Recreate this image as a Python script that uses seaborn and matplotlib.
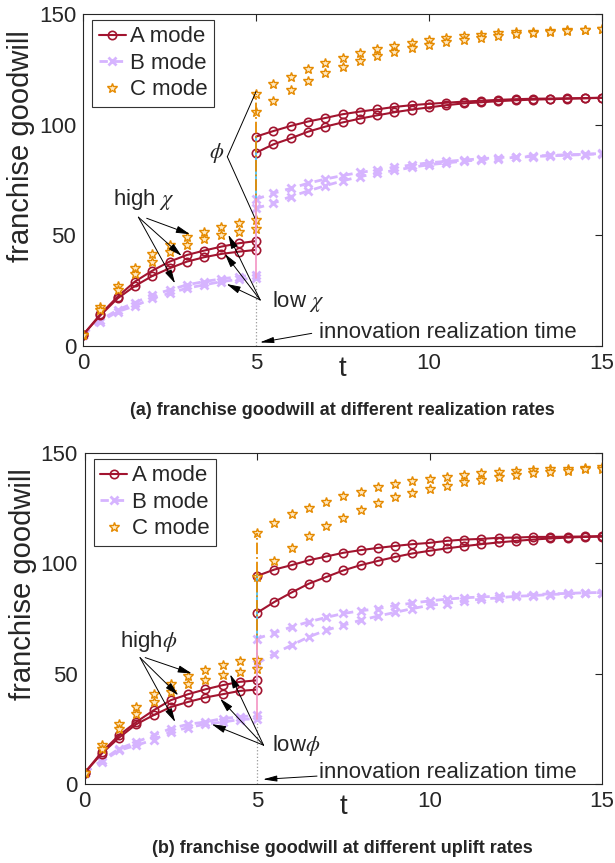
import numpy as np
import pandas as pd
import seaborn as sns
import matplotlib
matplotlib.use("Agg")
import matplotlib.pyplot as plt
from matplotlib.lines import Line2D

# time grid (before / after the innovation is realized at t = 5)
T_PRE = [0.0, 0.5, 1.0, 1.5, 2.0, 2.5, 3.0, 3.5, 4.0, 4.5, 5.0]
T_POST = [5.0, 5.5, 6.0, 6.5, 7.0, 7.5, 8.0, 8.5, 9.0, 9.5, 10.0,
          10.5, 11.0, 11.5, 12.0, 12.5, 13.0, 13.5, 14.0, 14.5, 15.0]
T_SWITCH = 5.0

# ---- (a) different realization rates ----
a_A_hi_pre = [5, 14.3, 22.3, 29.1, 34.0, 38.1, 41.1, 43.1, 44.9, 46.4, 47.4]
a_A_lo_pre = [5, 13.8, 21.5, 27.1, 31.6, 35.1, 38.1, 40.1, 41.6, 42.6, 43.4]
a_A_hi_post = [94.6, 97.1, 99.4, 101.4, 103.0, 104.7, 105.9, 106.9, 108.0, 108.8, 109.4,
               109.9, 110.4, 110.8, 111.2, 111.5, 111.7, 111.8, 111.9, 112.0, 112.2]
a_A_lo_post = [87.3, 91.1, 93.8, 96.8, 99.1, 101.0, 102.7, 104.2, 105.6, 106.8, 107.8,
               108.8, 109.6, 110.1, 110.6, 111.0, 111.3, 111.5, 111.7, 111.9, 112.1]
a_B_hi_pre = [5, 11.7, 16.3, 19.6, 23.0, 25.3, 27.6, 29.1, 30.3, 31.3, 32.1]
a_B_lo_pre = [5, 11.0, 15.5, 18.1, 21.5, 23.8, 26.1, 27.6, 29.1, 30.1, 30.6]
a_B_hi_post = [66.3, 69.0, 71.2, 73.5, 75.4, 77.0, 78.4, 79.5, 80.7, 81.8, 82.8,
               83.4, 84.0, 84.6, 85.1, 85.5, 85.8, 86.1, 86.4, 86.6, 87.0]
a_B_lo_post = [62.2, 64.5, 67.5, 70.0, 72.4, 74.6, 76.5, 78.0, 79.3, 80.7, 81.9,
               82.7, 83.5, 84.1, 84.7, 85.2, 85.6, 85.9, 86.2, 86.5, 86.9]
a_C_hi_pre = [5, 17.5, 27.1, 35.1, 41.6, 45.6, 49.4, 51.6, 53.9, 55.7, 56.9]
a_C_lo_pre = [5, 16.3, 25.3, 32.5, 38.1, 42.3, 45.6, 48.2, 50.2, 51.6, 52.7]
a_C_hi_post = [113.9, 118.2, 121.7, 125.0, 127.9, 130.3, 132.2, 134.0, 135.7, 137.0, 138.3,
               139.1, 140.0, 140.7, 141.3, 141.7, 142.0, 142.3, 142.6, 142.9, 143.2]
a_C_lo_post = [105.6, 110.8, 115.7, 119.8, 123.4, 126.2, 128.8, 131.0, 133.0, 134.8, 136.0,
               137.2, 138.3, 139.3, 140.1, 140.8, 141.4, 141.9, 142.2, 142.6, 143.1]

# ---- (b) different uplift rates ----
b_A_hi_pre = [5, 14.5, 22.1, 28.1, 33.4, 38.0, 40.7, 42.9, 44.8, 46.3, 47.0]
b_A_lo_pre = [5, 13.8, 21.0, 27.1, 31.2, 34.9, 37.2, 39.2, 40.7, 42.2, 42.8]
b_A_hi_post = [94.3, 97.2, 99.2, 101.4, 103.1, 104.8, 106.0, 107.0, 107.9, 108.7, 109.3,
               110.2, 110.8, 111.1, 111.6, 111.7, 112.0, 112.0, 112.1, 112.2, 112.4]
b_A_lo_post = [77.6, 82.5, 86.8, 90.8, 93.8, 96.8, 99.2, 101.1, 102.9, 104.5, 105.7,
               106.8, 107.8, 108.7, 109.5, 110.2, 110.8, 111.3, 111.7, 112.0, 112.1]
b_B_hi_pre = [5, 10.7, 16.0, 19.0, 22.1, 25.1, 27.1, 28.1, 29.7, 30.4, 31.2]
b_B_lo_pre = [5, 10.0, 15.3, 17.5, 20.1, 23.6, 25.6, 27.1, 28.1, 29.2, 29.7]
b_B_hi_post = [65.9, 68.5, 71.2, 73.5, 75.5, 77.3, 78.5, 79.5, 80.9, 82.0, 83.0,
               83.8, 84.4, 84.8, 85.1, 85.6, 85.9, 86.2, 86.4, 86.7, 86.8]
b_B_lo_post = [54.6, 59.1, 62.9, 66.7, 69.7, 72.0, 74.2, 76.1, 77.8, 79.5, 81.0,
               81.8, 83.0, 83.8, 84.4, 85.1, 85.4, 85.9, 86.2, 86.5, 86.8]
b_C_hi_pre = [5, 17.5, 27.4, 34.9, 41.0, 45.5, 48.8, 51.6, 53.8, 55.6, 56.4]
b_C_lo_pre = [5, 16.1, 25.1, 31.9, 37.2, 41.7, 45.2, 47.3, 49.3, 50.8, 52.3]
b_C_hi_post = [113.6, 118.4, 122.2, 125.2, 128.0, 130.5, 132.5, 134.4, 135.9, 137.3, 138.3,
               139.2, 140.0, 140.8, 141.5, 141.9, 142.3, 142.6, 142.9, 143.3, 143.5]
b_C_lo_post = [94.0, 101.0, 107.0, 112.3, 117.0, 120.8, 124.2, 127.2, 129.9, 132.0, 133.7,
               135.3, 136.7, 137.7, 139.0, 139.9, 140.8, 141.4, 142.0, 142.6, 142.9]

MODES = ["A mode", "B mode", "C mode"]
TITLES = ["(a) franchise goodwill at different realization rates",
          "(b) franchise goodwill at different uplift rates"]

A_COLOR = "#A2142F"
B_COLOR = "#D6B4FF"
C_COLOR = "#E58A00"
C_FILL = "#FFE9C2"
JUMP_COLORS = {"A mode": "#4DBEEE", "B mode": "#F59CC8", "C mode": "#E58A00"}


def build_frame(curves):
    rows = []
    for mode, level, phase, t, vals in curves:
        for ti, v in zip(t, vals):
            rows.append({"t": ti, "value": v, "mode": mode,
                         "curve": f"{level}-{phase}"})
    return pd.DataFrame(rows)


df_a = build_frame([
    ("A mode", "hi", "pre", T_PRE, a_A_hi_pre), ("A mode", "lo", "pre", T_PRE, a_A_lo_pre),
    ("A mode", "hi", "post", T_POST, a_A_hi_post), ("A mode", "lo", "post", T_POST, a_A_lo_post),
    ("B mode", "hi", "pre", T_PRE, a_B_hi_pre), ("B mode", "lo", "pre", T_PRE, a_B_lo_pre),
    ("B mode", "hi", "post", T_POST, a_B_hi_post), ("B mode", "lo", "post", T_POST, a_B_lo_post),
    ("C mode", "hi", "pre", T_PRE, a_C_hi_pre), ("C mode", "lo", "pre", T_PRE, a_C_lo_pre),
    ("C mode", "hi", "post", T_POST, a_C_hi_post), ("C mode", "lo", "post", T_POST, a_C_lo_post),
])
df_b = build_frame([
    ("A mode", "hi", "pre", T_PRE, b_A_hi_pre), ("A mode", "lo", "pre", T_PRE, b_A_lo_pre),
    ("A mode", "hi", "post", T_POST, b_A_hi_post), ("A mode", "lo", "post", T_POST, b_A_lo_post),
    ("B mode", "hi", "pre", T_PRE, b_B_hi_pre), ("B mode", "lo", "pre", T_PRE, b_B_lo_pre),
    ("B mode", "hi", "post", T_POST, b_B_hi_post), ("B mode", "lo", "post", T_POST, b_B_lo_post),
    ("C mode", "hi", "pre", T_PRE, b_C_hi_pre), ("C mode", "lo", "pre", T_PRE, b_C_lo_pre),
    ("C mode", "hi", "post", T_POST, b_C_hi_post), ("C mode", "lo", "post", T_POST, b_C_lo_post),
])

sns.set_theme(style="white")
plt.rcParams["font.family"] = ["Liberation Sans", "DejaVu Sans"]
plt.rcParams["mathtext.fontset"] = "stix"

fig = plt.figure(figsize=(6.15, 8.63), dpi=100)
ax1 = fig.add_axes([0.1350, 0.5991, 0.8439, 0.3847])
ax2 = fig.add_axes([0.1374, 0.0915, 0.8415, 0.3835])


def draw_panel(ax, df):
    # seaborn defaults marker edges to white, so set them explicitly
    d = df[df["mode"] == "B mode"]
    sns.lineplot(data=d, x="t", y="value", units="curve", estimator=None, ax=ax,
                 color=B_COLOR, linewidth=2.0, marker="x",
                 markersize=5.5, markeredgewidth=2.0, markeredgecolor=B_COLOR,
                 legend=False, dashes=False, linestyle=(0, (3, 2.5)))
    d = df[df["mode"] == "A mode"]
    sns.lineplot(data=d, x="t", y="value", units="curve", estimator=None, ax=ax,
                 color=A_COLOR, linewidth=1.5, marker="o", markersize=6,
                 markerfacecolor="none", markeredgecolor=A_COLOR,
                 markeredgewidth=1.2, legend=False)
    d = df[df["mode"] == "C mode"]
    sns.lineplot(data=d, x="t", y="value", units="curve", estimator=None, ax=ax,
                 color=C_COLOR, linestyle="none", marker="*", markersize=7.5,
                 markerfacecolor=C_FILL, markeredgecolor=C_COLOR,
                 markeredgewidth=1.0, legend=False)

    # vertical jumps at the realization time
    for mode, ls in [("A mode", "-"), ("C mode", "-."), ("B mode", "-")]:
        d = df[(df["mode"] == mode) & (df["t"] == T_SWITCH)]
        ax.plot([T_SWITCH, T_SWITCH], [d["value"].min(), d["value"].max()],
                color=JUMP_COLORS[mode], linestyle=ls, linewidth=1.3, zorder=4)
    low_b = df[(df["mode"] == "B mode") & (df["t"] == T_SWITCH)]["value"].min()
    ax.plot([T_SWITCH, T_SWITCH], [0, low_b], color="#9a9a9a", linestyle=":",
            linewidth=0.9, zorder=1)

    ax.set_xlim(0, 15)
    ax.set_ylim(0, 150)
    ax.set_xticks([0, 5, 10, 15])
    ax.set_yticks([0, 50, 100, 150])
    ax.tick_params(direction="in", top=True, right=True, length=5, width=0.8,
                   labelsize=16, colors="#262626", pad=5)
    for s in ax.spines.values():
        s.set_color("#262626")
        s.set_linewidth(0.8)
    ax.set_xlabel("t", fontsize=20, color="#262626")
    ax.xaxis.set_label_coords(0.5, -0.03)
    ax.set_ylabel("franchise goodwill", fontsize=21, color="#262626")
    ax.yaxis.set_label_coords(-0.092, 0.603)

    handles = [
        Line2D([], [], color=A_COLOR, lw=1.5, marker="o", mfc="none", ms=6, mew=1.2),
        Line2D([], [], color=B_COLOR, lw=2.0, ls=(0, (3, 2.5)), marker="x", ms=5.5, mew=2.0),
        Line2D([], [], color=C_COLOR, ls="none", marker="*", ms=7.5, mfc=C_FILL, mew=1.0),
    ]
    leg = ax.legend(handles, MODES, loc="upper left", bbox_to_anchor=(0.018, 0.983),
                    fontsize=16, frameon=True, fancybox=False, framealpha=1,
                    edgecolor="#333333", handlelength=1.2, handletextpad=0.2,
                    borderpad=0.3, labelspacing=0.25, borderaxespad=0)
    leg.get_frame().set_linewidth(0.8)


def arrow(ax, head, tail, hw=0.18):
    ax.annotate("", xy=head, xytext=tail,
                arrowprops=dict(arrowstyle=f"-|>,head_length=0.7,head_width={hw}",
                                color="black", lw=0.7, shrinkA=0, shrinkB=0))


draw_panel(ax1, df_a)
draw_panel(ax2, df_b)

# annotations panel (a)
ax1.text(0.87, 66, r"high $\chi$", fontsize=16, ha="left", va="center")
arrow(ax1, (3.09, 50.5), (1.84, 57.7))
arrow(ax1, (2.85, 40.7), (1.60, 58.2))
arrow(ax1, (2.66, 28.3), (1.60, 58.2))
ax1.text(5.45, 20, r"low $\chi$", fontsize=16, ha="left", va="center")
arrow(ax1, (4.20, 50.2), (5.12, 20.8))
arrow(ax1, (4.10, 41.6), (5.12, 20.8))
arrow(ax1, (4.15, 28.0), (5.12, 20.8))
ax1.plot([4.17, 5.0], [85.5, 114.9], color="black", lw=0.7)
ax1.plot([4.17, 4.97], [85.5, 57.7], color="black", lw=0.7)
ax1.text(3.86, 87.1, r"$\phi$", fontsize=16, ha="center", va="center")
ax1.text(6.82, 6.3, "innovation realization time", fontsize=16, ha="left", va="center")
arrow(ax1, (5.11, 1.6), (6.61, 5.7), hw=0.15)

# annotations panel (b)
ax2.text(1.03, 64.4, r"high$\phi$", fontsize=16, ha="left", va="center")
arrow(ax2, (3.11, 50.1), (1.76, 57.3))
arrow(ax2, (2.72, 40.2), (1.61, 57.3))
arrow(ax2, (2.63, 28.1), (1.61, 57.3))
ax2.text(5.43, 17.5, r"low$\phi$", fontsize=16, ha="left", va="center")
arrow(ax2, (4.22, 49.7), (5.19, 17.6))
arrow(ax2, (3.93, 38.7), (5.19, 17.6))
arrow(ax2, (3.69, 27.1), (5.19, 17.6))
ax2.text(6.80, 5.2, "innovation realization time", fontsize=16, ha="left", va="center")
arrow(ax2, (5.17, 2.1), (6.74, 3.6), hw=0.15)

fig.text(342 / 615, 1 - 410 / 863, TITLES[0], ha="center", va="center",
         fontsize=13, fontweight="bold")
fig.text(342 / 615, 1 - 848 / 863, TITLES[1], ha="center", va="center",
         fontsize=13, fontweight="bold")

fig.savefig("out.png", dpi=100)
